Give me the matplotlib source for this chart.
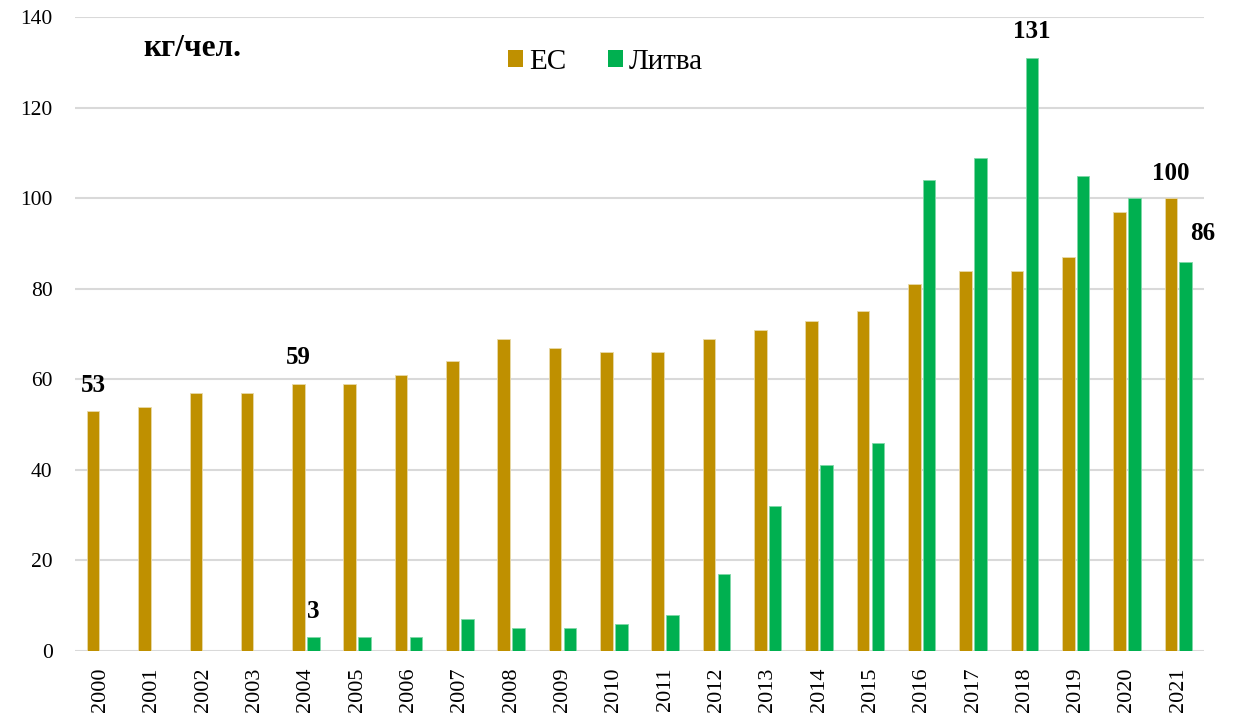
import matplotlib
matplotlib.use("Agg")
import matplotlib.pyplot as plt
import numpy as np
from matplotlib.patches import Patch

years = [str(y) for y in range(2000, 2022)]
eu = [53, 54, 57, 57, 59, 59, 61, 64, 69, 67, 66, 66, 69, 71, 73, 75, 81, 84, 84, 87, 97, 100]
lt = [0, 0, 0, 0, 3, 3, 3, 7, 5, 5, 6, 8, 17, 32, 41, 46, 104, 109, 131, 105, 100, 86]
series_names = ["ЕС", "Литва"]
unit_label = "кг/чел."
yticks = [0, 20, 40, 60, 80, 100, 120, 140]

c_eu = "#BF9000"
c_lt = "#00B050"

plt.rcParams['font.family'] = ['Liberation Serif', 'DejaVu Serif']

fig = plt.figure(figsize=(12.43, 7.17), dpi=100)
ax = fig.add_axes([0.0603, 0.092, 0.9083, 0.884])

x = np.arange(len(years))
w = 0.245
off = 0.145
ax.bar(x - off, eu, width=w, color=c_eu, edgecolor="#E8D9A8", linewidth=0.6, zorder=3)
lt_plot = [v if v > 0 else np.nan for v in lt]
ax.bar(x + off, lt_plot, width=w, color=c_lt, edgecolor="#7FD8A8", linewidth=0.6, zorder=3)

ax.set_xlim(-0.5, len(years) - 0.5)
ax.set_ylim(0, 140)
ax.set_yticks(yticks)
ax.set_yticklabels([str(t) for t in yticks], fontsize=15.5)
ax.set_xticks(x)
ax.set_xticklabels(years, rotation=90, fontsize=16)
ax.tick_params(axis='x', length=0, pad=12)
ax.tick_params(axis='y', length=0, pad=16)
for s in ax.spines.values():
    s.set_visible(False)
ax.grid(axis='y', color="#D9D9D9", linewidth=1.5, zorder=0)
ax.set_axisbelow(True)

def lab(i, series, val, dx=0, dy=26):
    xpos = i - off if series == 0 else i + off
    ax.annotate(str(val), xy=(xpos, val), xytext=(dx, dy), textcoords='offset pixels',
                ha='center', va='center', fontsize=18, fontweight='bold', zorder=5)

lab(0, 0, eu[0])
lab(4, 0, eu[4])
lab(4, 1, lt[4])
lab(18, 1, lt[18])
lab(21, 0, eu[21], dy=25)
lab(21, 1, lt[21], dx=17, dy=28)

ax.text(0.061, 0.95, unit_label, transform=ax.transAxes, fontsize=22.5, fontweight='bold',
        ha='left', va='center')

handles = [Patch(facecolor=c_eu, edgecolor='none'), Patch(facecolor=c_lt, edgecolor='none')]
ax.legend(handles, series_names, loc='center', bbox_to_anchor=(0.47, 0.929), ncol=2,
          frameon=False, fontsize=21, handlelength=0.52, handleheight=0.52,
          handletextpad=0.22, columnspacing=1.4)

fig.savefig("out.png", dpi=100)
